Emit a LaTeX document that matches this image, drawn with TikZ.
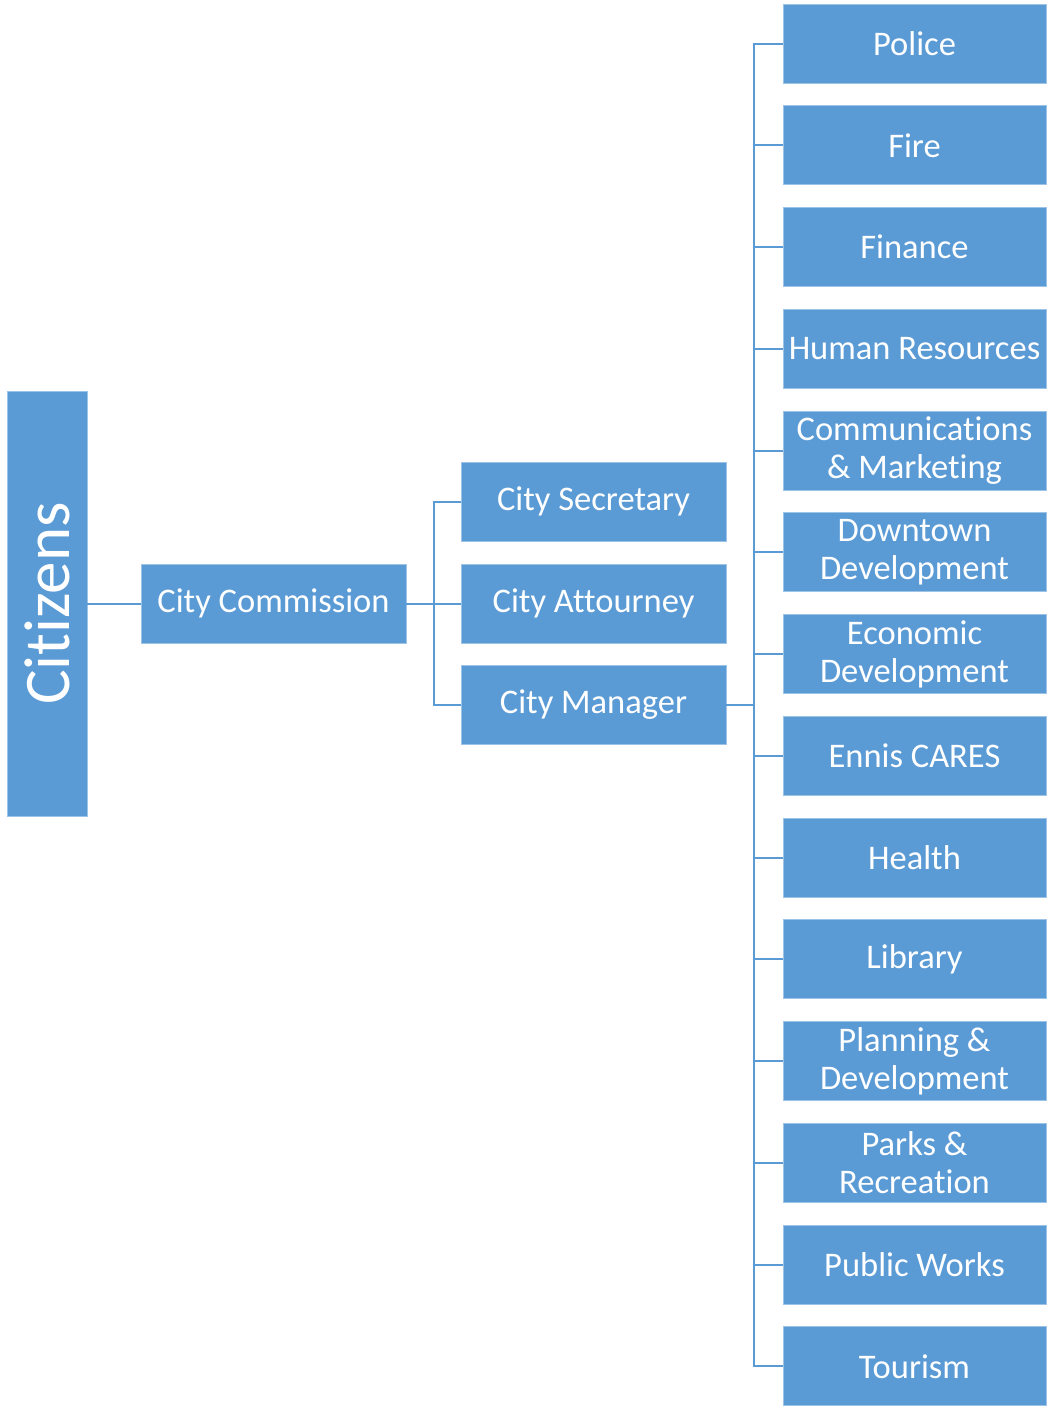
\documentclass[tikz,border=0pt]{standalone}
\usepackage{fontspec}
\setmainfont{Carlito}[Ligatures={NoCommon}]
\definecolor{boxblue}{HTML}{5B9BD5}
\definecolor{boxedge}{HTML}{9DC3E6}
\definecolor{linkblue}{HTML}{5B9BD5}
\begin{document}
\begin{tikzpicture}[x=1pt,y=-1pt,
  unit/.style={rectangle, fill=boxblue, draw=boxedge, line width=0.8pt,
    text=white, inner sep=0pt, align=center,
    font=\fontsize{34.5}{38}\selectfont},
  dept/.style={unit, minimum width=263pt, minimum height=79pt},
  mid/.style={unit, minimum width=265pt, minimum height=79pt},
  link/.style={draw=linkblue, line width=2pt}]
\useasboundingbox (0,0) rectangle (1048,1406);

% citizens and commission
\node[unit, minimum width=80pt, minimum height=425pt] (cit) at (47,603.5) {};
\node[rotate=90, text=white, font=\fontsize{65}{70}\selectfont] (citl) at (cit.center) {Citizens};
\node[unit, minimum width=265pt, minimum height=79pt] (comm) at (273.5,603.5) {\raisebox{-2pt}{City Commission}};

% offices reporting to the commission
\node[mid] (sec) at (593.5,501.5) {\raisebox{-1pt}{City Secretary}};
\node[mid] (att) at (593.5,603.5) {\raisebox{-2pt}{City Attourney}};
\node[mid] (mgr) at (593.5,704.5) {\raisebox{-2pt}{City Manager}};

% departments under the city manager
\foreach \name/\label [count=\i from 0] in {
  pol/Police, fire/Fire, fin/Finance, hr/Human Resources,
  com/Communications\\\& Marketing, dtd/Downtown\\Development,
  eco/Economic\\Development, care/Ennis CARES, hea/Health, lib/Library,
  pla/Planning \&\\Development, par/Parks \&\\Recreation,
  pw/Public Works, tou/Tourism}
  \node[dept] (\name) at (914.5,{43.5+101.75*\i}) {\label};

% connectors
\draw[link] (cit.east) -- (comm.west);
\draw[link] (comm.east) -- (att.west);
\draw[link] (sec.west) -- ++(-27,0) |- (mgr.west);
\coordinate (trunk) at (754,704.5);
\draw[link] (mgr.east) -- (trunk);
\draw[link] (pol.west) -- ++(-29,0) |- (tou.west);
\foreach \name in {fire,fin,hr,com,dtd,eco,care,hea,lib,pla,par,pw}
  \draw[link] (\name.west) -- ++(-29,0);
\end{tikzpicture}
\end{document}
